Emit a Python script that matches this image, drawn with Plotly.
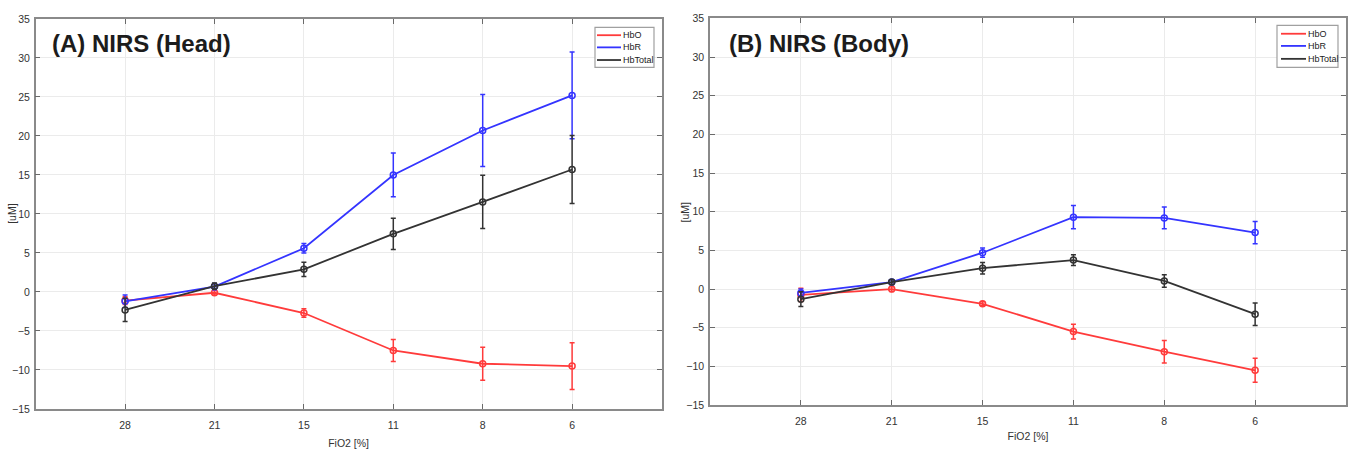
import plotly.graph_objects as go

W, H = 1353, 451

fio2 = ["28", "21", "15", "11", "8", "6"]
series_names = ["HbO", "HbR", "HbTotal"]
series_colors = ["#ff3b3b", "#3434ff", "#333333"]

head_hbo = [-1.1, -0.1, -2.7, -7.5, -9.2, -9.5]
head_hbo_err = [0.5, 0.3, 0.55, 1.4, 2.1, 3.0]
head_hbr = [-1.2, 0.7, 5.6, 15.0, 20.7, 25.2]
head_hbr_err = [0.8, 0.4, 0.6, 2.8, 4.6, 5.55]
head_hbt = [-2.3, 0.75, 2.9, 7.45, 11.55, 15.7]
head_hbt_err = [1.5, 0.4, 0.9, 2.0, 3.4, 4.35]

body_hbo = [-0.75, 0.0, -1.9, -5.5, -8.1, -10.5]
body_hbo_err = [0.85, 0.3, 0.25, 0.95, 1.45, 1.55]
body_hbr = [-0.5, 0.9, 4.7, 9.3, 9.2, 7.3]
body_hbr_err = [0.5, 0.3, 0.6, 1.5, 1.4, 1.45]
body_hbt = [-1.3, 0.9, 2.7, 3.75, 1.05, -3.25]
body_hbt_err = [0.95, 0.3, 0.75, 0.7, 0.8, 1.45]

y_ticks = [-15, -10, -5, 0, 5, 10, 15, 20, 25, 30, 35]

NARROW = "Liberation Sans Narrow, Arial Narrow, Liberation Sans, Arial, sans-serif"
BOLD = "Liberation Sans, Arial, sans-serif"


def px(x):
    return x / W


def py(y):
    return 1 - y / H


fig = go.Figure()

panels = [
    ("x", "y", [head_hbo, head_hbr, head_hbt], [head_hbo_err, head_hbr_err, head_hbt_err]),
    ("x2", "y2", [body_hbo, body_hbr, body_hbt], [body_hbo_err, body_hbr_err, body_hbt_err]),
]
for xa, ya, vals, errs in panels:
    for name, col, v, e in zip(series_names, series_colors, vals, errs):
        fig.add_trace(go.Scatter(
            x=fio2, y=v, name=name, xaxis=xa, yaxis=ya,
            mode="lines+markers",
            line=dict(color=col, width=1.8),
            marker=dict(symbol="circle-open", size=6, color=col, line=dict(width=1.5, color=col)),
            error_y=dict(type="data", array=e, visible=True, color=col, thickness=1.5, width=2.5),
            showlegend=False,
        ))

axis_common = dict(
    showgrid=True, gridcolor="#ebebeb", gridwidth=1,
    showline=True, linecolor="#8a8a8a", linewidth=1.5, mirror="ticks",
    ticks="inside", ticklen=5, tickcolor="#6a6a6a", tickwidth=1,
    tickfont=dict(family=NARROW, size=10.5, color="#333333"),
    zeroline=False,
)
title_font = dict(family=NARROW, size=10.5, color="#333333")

left_dom_x = [px(35.7), px(661.5)]
right_dom_x = [px(710), px(1346)]
left_dom_y = [py(414), py(13.3)]
right_dom_y = [py(410), py(12.7)]

fig.update_layout(
    width=W, height=H,
    margin=dict(l=0, r=0, t=0, b=0),
    paper_bgcolor="white", plot_bgcolor="white",
    xaxis=dict(domain=left_dom_x, anchor="y", type="category", range=[-1, 6],
               ticklabelstandoff=6,
               title=dict(text="FiO2 [%]", font=title_font, standoff=9),
               **axis_common),
    yaxis=dict(domain=left_dom_y, anchor="x", range=[-15, 35], tickvals=y_ticks,
               ticklabelstandoff=2,
               **axis_common),
    xaxis2=dict(domain=right_dom_x, anchor="y2", type="category", range=[-1, 6],
                ticklabelstandoff=6,
                title=dict(text="FiO2 [%]", font=title_font, standoff=6),
                **axis_common),
    yaxis2=dict(domain=right_dom_y, anchor="x2", range=[-15, 35], tickvals=y_ticks,
                ticklabelstandoff=2,
                **axis_common),
)

# y-axis titles
fig.add_annotation(text="[uM]", x=px(12), y=py(213.5), xref="paper", yref="paper", textangle=-90,
                   xanchor="center", yanchor="middle", showarrow=False, font=title_font)
fig.add_annotation(text="[uM]", x=px(685), y=py(211), xref="paper", yref="paper", textangle=-90,
                   xanchor="center", yanchor="middle", showarrow=False, font=title_font)

# Panel titles
fig.add_annotation(text="<b>(A) NIRS (Head)</b>", x=px(50), y=py(38.5), xref="paper", yref="paper",
                   xanchor="left", yanchor="middle", showarrow=False,
                   font=dict(family=BOLD, size=24, color="#1c1c1c"))
fig.add_annotation(text="<b>(B) NIRS (Body)</b>", x=px(727), y=py(38.5), xref="paper", yref="paper",
                   xanchor="left", yanchor="middle", showarrow=False,
                   font=dict(family=BOLD, size=24, color="#1c1c1c"))

# Legends (drawn as box + sample lines + text)
legend_specs = [
    dict(box=(595, 22, 654, 63), line_x=(597, 621), text_x=622, rows=(30, 42.5, 55.5)),
    dict(box=(1277, 20, 1338, 63), line_x=(1281, 1306), text_x=1307, rows=(28.5, 41, 54.3)),
]
for spec in legend_specs:
    x0, y0, x1, y1 = spec["box"]
    fig.add_shape(type="rect", xref="paper", yref="paper",
                  x0=px(x0), x1=px(x1), y0=py(y1), y1=py(y0),
                  line=dict(color="#a0a0a0", width=1.2), fillcolor="white", layer="above")
    for name, col, ry in zip(series_names, series_colors, spec["rows"]):
        fig.add_shape(type="line", xref="paper", yref="paper",
                      x0=px(spec["line_x"][0]), x1=px(spec["line_x"][1]), y0=py(ry), y1=py(ry),
                      line=dict(color=col, width=1.8), layer="above")
        fig.add_annotation(text=name, x=px(spec["text_x"]), y=py(ry), xref="paper", yref="paper",
                           xanchor="left", yanchor="middle", showarrow=False, borderpad=0,
                           font=dict(family=NARROW, size=9, color="#222222"))

fig.write_html("out.html")
